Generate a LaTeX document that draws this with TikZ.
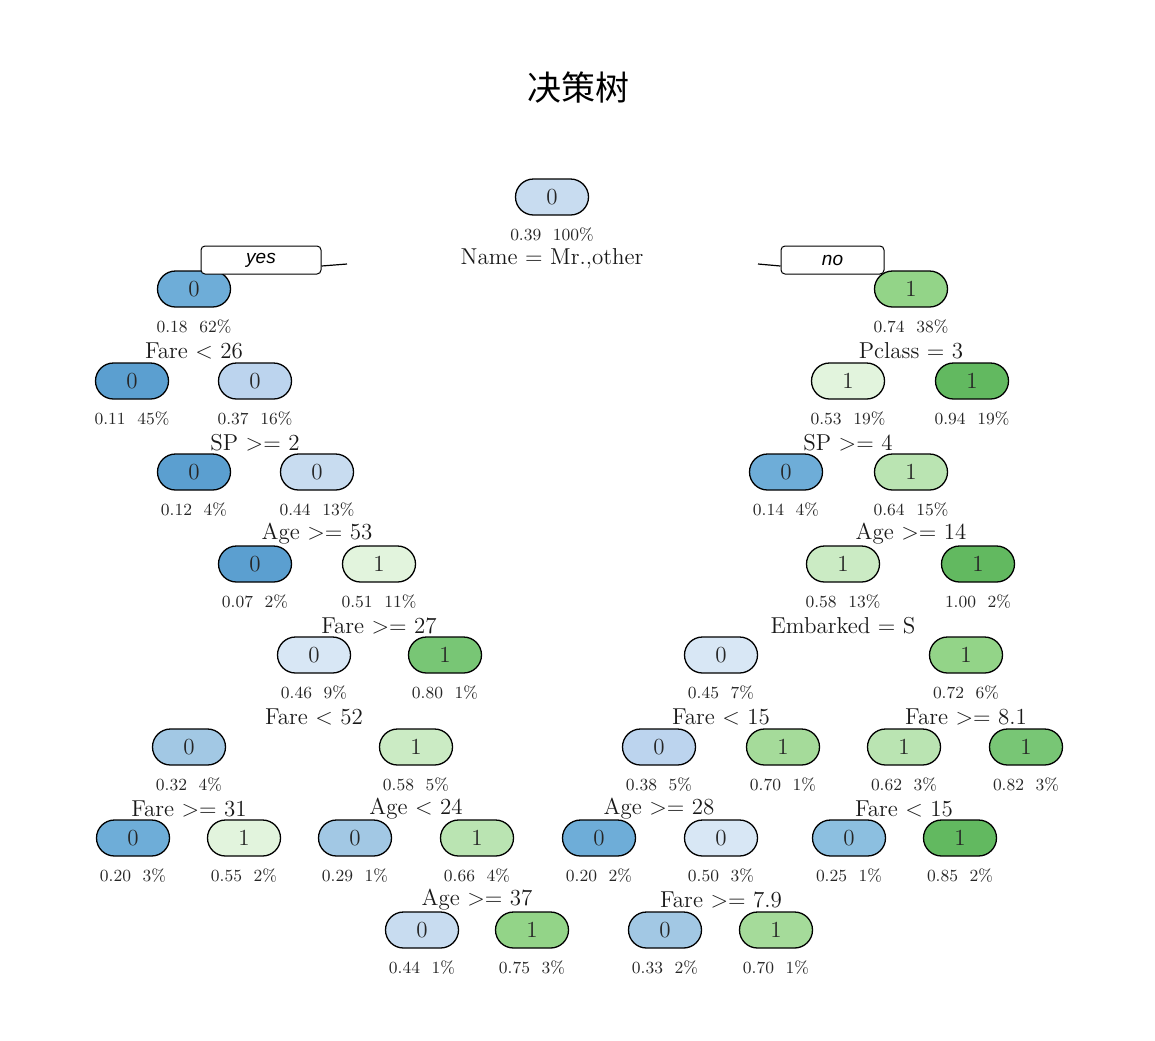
\documentclass[tikz,border=0pt]{standalone}
\usepackage{fontspec}
\newfontfamily\cjk{Noto Sans CJK SC}
\newfontfamily\lblfont{Liberation Sans}
\usetikzlibrary{positioning}
%% box shades: blue = class 0, green = class 1
\definecolor{b1}{HTML}{5B9FD0}
\definecolor{b2}{HTML}{6EADD8}
\definecolor{b3}{HTML}{8CBFE0}
\definecolor{b4}{HTML}{A2C8E4}
\definecolor{b5}{HTML}{BCD4EE}
\definecolor{b6}{HTML}{C8DCF0}
\definecolor{b7}{HTML}{D8E7F5}
\definecolor{g1}{HTML}{E2F4DD}
\definecolor{g2}{HTML}{CBEBC4}
\definecolor{g3}{HTML}{BAE4B2}
\definecolor{g4}{HTML}{A5DB9A}
\definecolor{g5}{HTML}{93D488}
\definecolor{g6}{HTML}{78C675}
\definecolor{g7}{HTML}{62B960}
\tikzset{
  %% class box (pill)
  N/.style={rectangle, rounded corners=9pt, draw=black, fill=#1,
            line width=0.65pt, minimum width=36.5pt, minimum height=18pt,
            inner sep=0pt, text=black!85, font=\fontsize{11.5}{13}\selectfont},
  %% probability / percentage under a box
  ST/.style={inner sep=0pt, text=black!85, font=\fontsize{8.5}{10}\selectfont},
  %% split rule
  SPL/.style={inner sep=0pt, text=black!90, font=\fontsize{11.5}{13}\selectfont},
  %% yes / no tag
  YN/.style={rectangle, rounded corners=2pt, draw=black, fill=white,
             line width=0.5pt, minimum height=14pt, inner sep=0pt,
             font=\lblfont\itshape\fontsize{9.5}{11}\selectfont},
}

\begin{document}
\begin{tikzpicture}[x=0.5pt, y=-0.5pt]
\useasboundingbox (0,0) rectangle (1155,1040);

%% ════════════════════════════════════════════════
%%  TITLE
%% ════════════════════════════════════════════════
\node[font=\cjk\fontsize{17}{20}\selectfont] (title) at (578,88) {决策树};

%% ════════════════════════════════════════════════
%%  BOXES  (rpart node numbers, pixel coordinates)
%% ════════════════════════════════════════════════
\foreach \n/\x/\y/\c/\col/\s in {
  n1/552/197/0/b6/{0.39\ \ 100\%},
  n2/194/289/0/b2/{0.18\ \ 62\%},   n3/911/289/1/g5/{0.74\ \ 38\%},
  n4/132/381/0/b1/{0.11\ \ 45\%},   n5/255/381/0/b5/{0.37\ \ 16\%},
  n6/848/381/1/g1/{0.53\ \ 19\%},   n7/972/381/1/g7/{0.94\ \ 19\%},
  n10/194/472/0/b1/{0.12\ \ 4\%},   n11/317/472/0/b6/{0.44\ \ 13\%},
  n12/786/472/0/b2/{0.14\ \ 4\%},   n13/911/472/1/g3/{0.64\ \ 15\%},
  n22/255/564/0/b1/{0.07\ \ 2\%},   n23/379/564/1/g1/{0.51\ \ 11\%},
  n26/843/564/1/g2/{0.58\ \ 13\%},  n27/978/564/1/g7/{1.00\ \ 2\%},
  n46/314/655/0/b7/{0.46\ \ 9\%},   n47/445/655/1/g6/{0.80\ \ 1\%},
  n52/721/655/0/b7/{0.45\ \ 7\%},   n53/966/655/1/g5/{0.72\ \ 6\%},
  n92/189/747/0/b4/{0.32\ \ 4\%},   n93/416/747/1/g2/{0.58\ \ 5\%},
  n104/659/747/0/b5/{0.38\ \ 5\%},  n105/783/747/1/g4/{0.70\ \ 1\%},
  n106/904/747/1/g3/{0.62\ \ 3\%},  n107/1026/747/1/g6/{0.82\ \ 3\%},
  n184/133/838/0/b2/{0.20\ \ 3\%},  n185/244/838/1/g1/{0.55\ \ 2\%},
  n186/355/838/0/b4/{0.29\ \ 1\%},  n187/477/838/1/g3/{0.66\ \ 4\%},
  n208/599/838/0/b2/{0.20\ \ 2\%},  n209/721/838/0/b7/{0.50\ \ 3\%},
  n212/849/838/0/b3/{0.25\ \ 1\%},  n213/960/838/1/g7/{0.85\ \ 2\%},
  n374/422/930/0/b6/{0.44\ \ 1\%},  n375/532/930/1/g5/{0.75\ \ 3\%},
  n418/665/930/0/b4/{0.33\ \ 2\%},  n419/776/930/1/g4/{0.70\ \ 1\%}}
{
  \node[N=\col] (\n) at (\x,\y) {\c};
  \node[ST] (\n-s) at ([yshift=-19pt]\n.center) {\s};
}

%% ════════════════════════════════════════════════
%%  SPLIT RULES  (under the parent box)
%% ════════════════════════════════════════════════
\foreach \n/\t in {
  n1/{Name = Mr.,other},
  n2/{Fare < 26},    n3/{Pclass = 3},
  n5/{SP >= 2},      n6/{SP >= 4},
  n11/{Age >= 53},   n13/{Age >= 14},
  n23/{Fare >= 27},  n26/{Embarked = S},
  n46/{Fare < 52},   n52/{Fare < 15},   n53/{Fare >= 8.1},
  n92/{Fare >= 31},  n93/{Age < 24},    n104/{Age >= 28}, n106/{Fare < 15},
  n187/{Age >= 37},  n209/{Fare >= 7.9}}
{
  \node[SPL] (\n-q) at ([yshift=-31pt]\n.center) {\t};
}

%% ════════════════════════════════════════════════
%%  YES / NO tags
%% ════════════════════════════════════════════════
\node[YN, minimum width=60pt]   (yes) at (261,260) {yes};
\node[YN, minimum width=51.5pt] (no)  at (832.5,260) {no};
\coordinate (yesEnd) at (347,264);
\coordinate (noEnd)  at (758,264);
\draw[line width=0.6pt] ([yshift=-3pt]yes.east) -- (yesEnd);
\draw[line width=0.6pt] (noEnd) -- ([yshift=-3pt]no.west);

\end{tikzpicture}
\end{document}
